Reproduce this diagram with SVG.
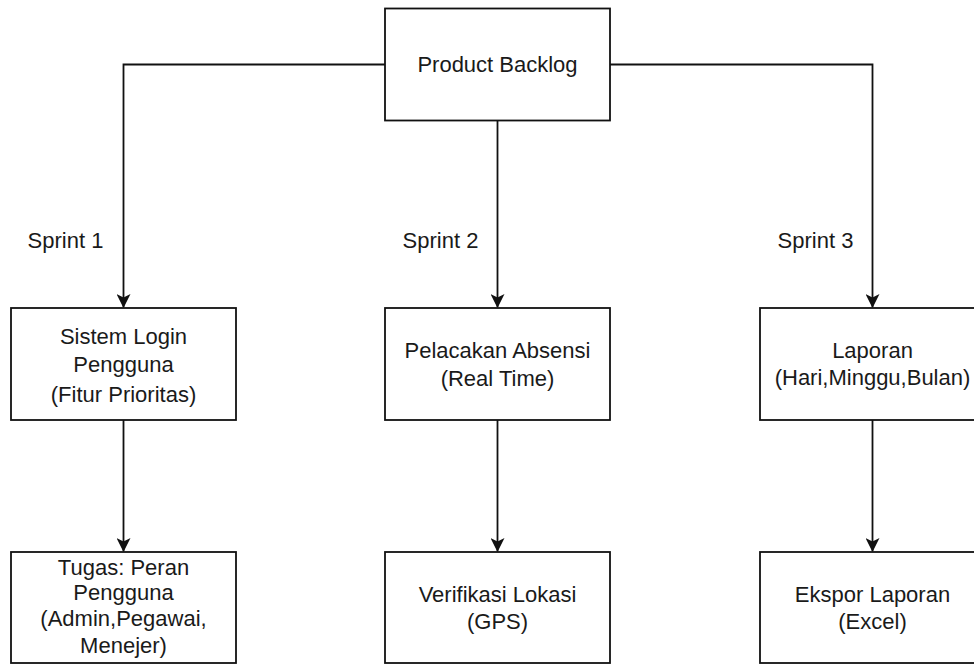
<svg xmlns="http://www.w3.org/2000/svg" width="974" height="664" viewBox="0 0 974 664">
  <style>
    .box { fill: #ffffff; stroke: #111111; stroke-width: 1.8; }
    .lbl { font-family: "Liberation Sans", Arial, Helvetica, sans-serif; font-size: 22px; fill: #1a1a1a; text-anchor: middle; }
    .edge { fill: none; stroke: #111111; stroke-width: 1.8; }
  </style>
  <defs>
    <marker id="arrow" viewBox="0 0 14 14" refX="13" refY="7" markerWidth="14" markerHeight="14" markerUnits="userSpaceOnUse" orient="auto">
      <path d="M0,0 L14,7 L0,14 L3.5,7 Z" fill="#111111"/>
    </marker>
  </defs>
  <rect width="974" height="664" fill="#ffffff"/>

  <g id="connectors">
    <path class="edge" d="M385,64.5 H123.5 V307" marker-end="url(#arrow)"/>
    <path class="edge" d="M497.5,120.5 V307" marker-end="url(#arrow)"/>
    <path class="edge" d="M610,64.5 H872.5 V307" marker-end="url(#arrow)"/>
    <path class="edge" d="M123.5,420 V551" marker-end="url(#arrow)"/>
    <path class="edge" d="M497.5,420 V551" marker-end="url(#arrow)"/>
    <path class="edge" d="M872.5,420 V551" marker-end="url(#arrow)"/>
    <text class="lbl" x="65.5" y="248">Sprint 1</text>
    <text class="lbl" x="440.5" y="248">Sprint 2</text>
    <text class="lbl" x="815.5" y="248">Sprint 3</text>
  </g>

  <g id="product-backlog">
    <rect class="box" x="385" y="8.5" width="225" height="112"/>
    <text class="lbl" x="497.5" y="72">Product Backlog</text>
  </g>

  <g id="sistem-login">
    <rect class="box" x="11" y="308" width="225" height="112"/>
    <text class="lbl" x="123.5" y="344">Sistem Login</text>
    <text class="lbl" x="123.5" y="372">Pengguna</text>
    <text class="lbl" x="123.5" y="402">(Fitur Prioritas)</text>
  </g>

  <g id="pelacakan-absensi">
    <rect class="box" x="385" y="308" width="225" height="112"/>
    <text class="lbl" x="497.5" y="358">Pelacakan Absensi</text>
    <text class="lbl" x="497.5" y="386">(Real Time)</text>
  </g>

  <g id="laporan">
    <rect class="box" x="760" y="308" width="225" height="112"/>
    <text class="lbl" x="872.5" y="358">Laporan</text>
    <text class="lbl" x="872.5" y="385">(Hari,Minggu,Bulan)</text>
  </g>

  <g id="tugas-peran">
    <rect class="box" x="11" y="552" width="225" height="111"/>
    <text class="lbl" x="123.5" y="574.5">Tugas: Peran</text>
    <text class="lbl" x="123.5" y="600">Pengguna</text>
    <text class="lbl" x="123.5" y="626">(Admin,Pegawai,</text>
    <text class="lbl" x="123.5" y="652.5">Menejer)</text>
  </g>

  <g id="verifikasi-lokasi">
    <rect class="box" x="385" y="552" width="225" height="111"/>
    <text class="lbl" x="497.5" y="601.5">Verifikasi Lokasi</text>
    <text class="lbl" x="497.5" y="628.5">(GPS)</text>
  </g>

  <g id="ekspor-laporan">
    <rect class="box" x="760" y="552" width="225" height="111"/>
    <text class="lbl" x="872.5" y="601.5">Ekspor Laporan</text>
    <text class="lbl" x="872.5" y="628.5">(Excel)</text>
  </g>
</svg>
